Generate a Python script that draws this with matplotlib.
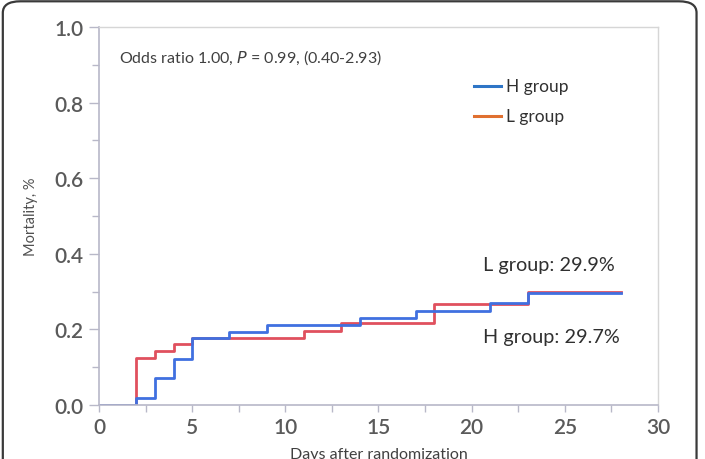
import matplotlib
matplotlib.use("Agg")
import matplotlib.pyplot as plt
from matplotlib.patches import FancyBboxPatch
from matplotlib.ticker import MultipleLocator

plt.rcParams['font.family'] = ['Lato', 'DejaVu Sans']

# Kaplan-Meier style cumulative mortality
h_days = [0, 2, 3, 4, 5, 7, 9, 14, 17, 21, 23, 28]
h_mort = [0, 0.018, 0.071, 0.122, 0.176, 0.192, 0.212, 0.230, 0.250, 0.269, 0.296, 0.296]
l_days = [0, 2, 3, 4, 5, 11, 13, 18, 23, 28]
l_mort = [0, 0.124, 0.142, 0.161, 0.176, 0.197, 0.217, 0.267, 0.299, 0.299]

x_ticks = [0, 5, 10, 15, 20, 25, 30]
y_ticks = [0.0, 0.2, 0.4, 0.6, 0.8, 1.0]

fig = plt.figure(figsize=(7.05, 4.6), dpi=100)
ax = fig.add_axes([0.1404, 0.1174, 0.7929, 0.8217])

# rounded outer frame
frame = FancyBboxPatch((0.004, -0.1), 0.984, 1.095, boxstyle="round,pad=0,rounding_size=0.025",
                       transform=fig.transFigure, fill=False, edgecolor='#3a3a3a', linewidth=1.6,
                       clip_on=False)
fig.patches.append(frame)

ax.step(l_days, l_mort, where='post', color='#e0505e', linewidth=2.0)
ax.step(h_days, h_mort, where='post', color='#4070e0', linewidth=2.0)

ax.set_xlim(0, 30)
ax.set_ylim(0, 1.0)
ax.set_xticks(x_ticks)
ax.set_yticks(y_ticks)
ax.set_yticklabels([f"{v:.1f}" for v in y_ticks])
ax.xaxis.set_minor_locator(MultipleLocator(2.5))
ax.yaxis.set_minor_locator(MultipleLocator(0.1))
ax.tick_params(which='both', direction='out', length=5, color='#b8b8c8', width=1,
               labelsize=15, labelcolor='#5a5a5a')
ax.tick_params(axis='y', which='major', length=7, pad=4)
for lab in ax.get_xticklabels() + ax.get_yticklabels():
    lab.set_fontweight('semibold')

for s in ['left', 'bottom']:
    ax.spines[s].set_color('#b8b8c8')
    ax.spines[s].set_linewidth(1.2)
for s in ['top', 'right']:
    ax.spines[s].set_color('#d6d6d6')
    ax.spines[s].set_linewidth(1.0)

ax.set_ylabel('Mortality, %', fontsize=10.5, color='#505050', labelpad=12)
ax.set_xlabel('Days after randomization', fontsize=11.5, color='#404040', labelpad=7)

ax.text(1.1, 0.921, 'Odds ratio 1.00, $\\it{P}$ = 0.99, (0.40-2.93)', fontsize=11.5,
        color='#404040', va='center', ha='left')

# legend drawn by hand to mimic the original placement
ax.plot([20.1, 21.6], [0.844, 0.844], color='#2e75c6', linewidth=2.2)
ax.plot([20.1, 21.6], [0.765, 0.765], color='#e07030', linewidth=2.2)
ax.text(21.85, 0.844, 'H group', fontsize=12.5, color='#303030', va='center')
ax.text(21.85, 0.765, 'L group', fontsize=12.5, color='#303030', va='center')

ax.text(20.6, 0.373, 'L group: 29.9%', fontsize=14.3, color='#303030', va='center')
ax.text(20.6, 0.18, 'H group: 29.7%', fontsize=14.3, color='#303030', va='center')

fig.savefig('out.png', dpi=100)
